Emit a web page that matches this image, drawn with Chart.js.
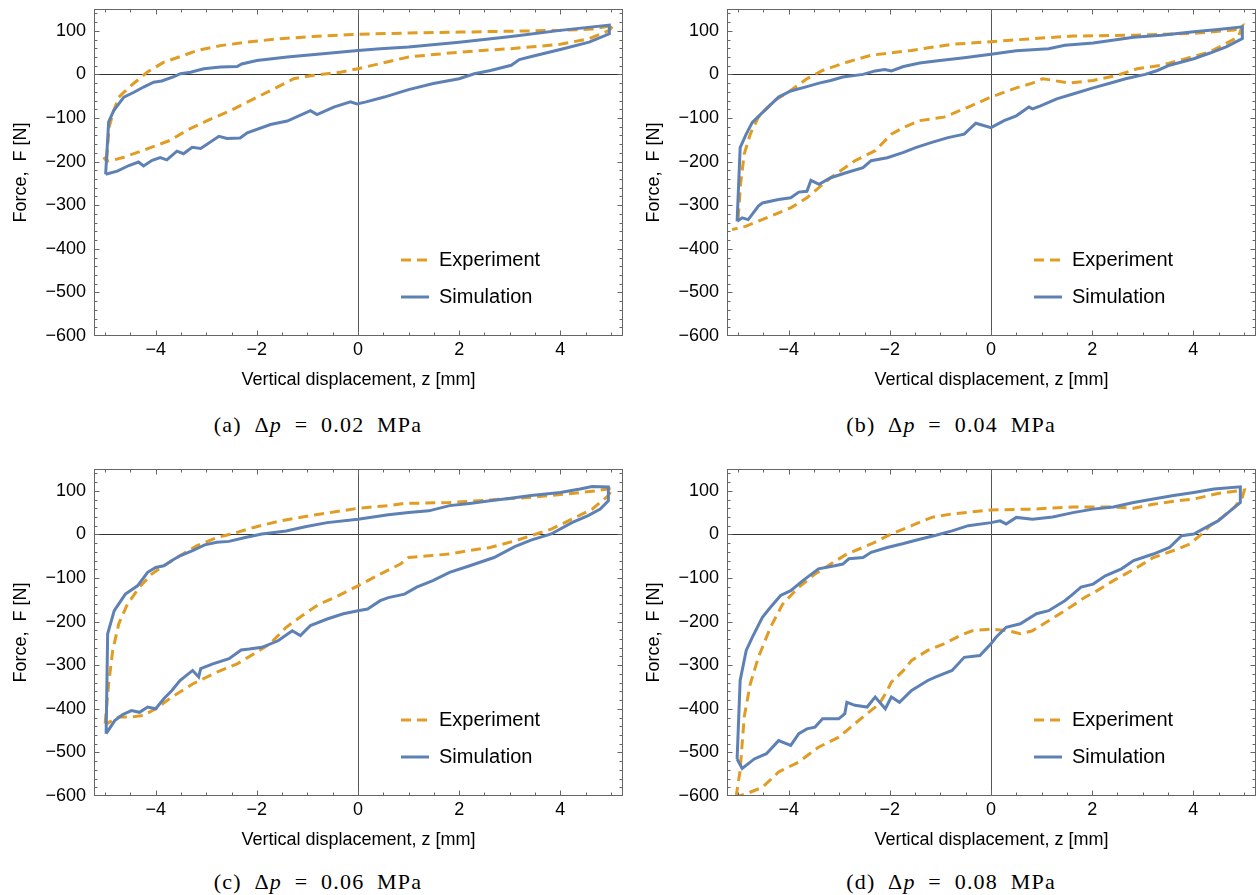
<!DOCTYPE html>
<html><head><meta charset="utf-8">
<script src="https://cdn.jsdelivr.net/npm/chart.js@4.4.0/dist/chart.umd.min.js"></script>
<style>
html,body{margin:0;padding:0;background:#fff;width:1260px;height:895px;overflow:hidden;}
.panel{position:absolute;width:627px;height:400px;}
.cap{position:absolute;font-family:"Liberation Serif","Times New Roman",serif;font-size:22px;line-height:30px;color:#000;text-align:center;width:400px;letter-spacing:1.2px;word-spacing:6px;}
</style></head><body>
<div class="panel" style="left:0;top:0"><canvas id="ca" width="627" height="400"></canvas></div>
<div class="panel" style="left:633px;top:0"><canvas id="cb" width="627" height="400"></canvas></div>
<div class="panel" style="left:0;top:460px"><canvas id="cc" width="627" height="400"></canvas></div>
<div class="panel" style="left:633px;top:460px"><canvas id="cd" width="627" height="400"></canvas></div>
<div class="cap" style="left:118px;top:410px">(a) Δ<i>p</i> = 0.02 MPa</div>
<div class="cap" style="left:751px;top:410px">(b) Δ<i>p</i> = 0.04 MPa</div>
<div class="cap" style="left:118px;top:867px">(c) Δ<i>p</i> = 0.06 MPa</div>
<div class="cap" style="left:751px;top:867px">(d) Δ<i>p</i> = 0.08 MPa</div>
<script>
// ---- tick labels / axis ranges ----
const X_TICKS = [-4, -2, 0, 2, 4];
const Y_TICKS = [-600, -500, -400, -300, -200, -100, 0, 100];
const X_RANGE = [-5.22, 5.24];
const Y_RANGE = [-600, 150];
const SERIES_LABELS = ['Experiment', 'Simulation'];

// ---- data: [z (mm), F (N)] in loop order ----
// (a) Δp = 0.02 MPa
const expA = [[-4.97,-195],[-4.92,-121],[-4.83,-83],[-4.73,-52],[-4.6,-38],[-4.45,-22],[-4.3,-8],[-4.17,5],[-4.0,17],[-3.84,28],[-3.51,41],[-3.18,55],[-2.72,66],[-2.19,74],[-1.54,82],[-0.88,87],[-0.22,91],[0.3,93],[1.0,95],[2.0,97],[3.0,99],[4.0,101],[4.65,104],[5.05,113],
  [4.97,101],[4.57,82],[4.0,69],[3.03,59],[2.46,55],[2.0,51],[1.0,40],[0.44,25],[0.0,13],[-0.35,5],[-0.88,-2],[-1.27,-10],[-1.73,-37],[-2.06,-56],[-2.52,-83],[-2.98,-106],[-3.38,-128],[-3.71,-151],[-4.17,-171],[-4.63,-190],[-4.85,-197],[-4.97,-199],[-5.03,-190]];
const simA = [[-4.99,-229],[-4.93,-109],[-4.83,-83],[-4.63,-52],[-4.43,-41],[-4.24,-29],[-4.04,-18],[-3.88,-15],[-3.64,-5],[-3.51,1.5],[-3.31,5],[-3.05,13],[-2.72,17],[-2.39,18],[-2.3,24],[-2.0,32],[-1.4,40],[-0.75,47],[0.0,55],[0.44,59],[1.0,63],[2.0,74],[3.03,87],[4.0,101],[4.97,113],[4.97,93],
  [4.57,74],[4.0,57],[3.43,41],[3.19,34],[3.03,21],[2.62,9],[2.3,1.5],[2.0,-10],[1.49,-21],[1.0,-35],[0.52,-52],[0.16,-63],[-0.02,-68],[-0.15,-63],[-0.48,-75],[-0.81,-92],[-0.94,-83],[-1.4,-107],[-1.73,-115],[-2.19,-134],[-2.33,-146],[-2.59,-147],[-2.75,-142],[-3.11,-170],[-3.28,-167],[-3.45,-182],[-3.58,-176],[-3.78,-196],[-3.91,-191],[-4.07,-197],[-4.24,-210],[-4.34,-201],[-4.53,-209],[-4.76,-222],[-4.99,-229]];
// (b) Δp = 0.04 MPa
const expB = [[-5.0,-330],[-4.95,-250],[-4.88,-183],[-4.76,-137],[-4.6,-98],[-4.28,-60],[-3.96,-37],[-3.64,-10],[-3.33,9],[-2.85,28],[-2.37,44],[-1.57,55],[-0.77,69],[0,75],[0.82,82],[1.62,88],[2.82,90],[4.01,94],[4.81,102],[4.97,111],
  [4.89,86],[4.65,71],[4.33,52],[3.85,36],[3.37,21],[2.89,13],[2.5,-2],[2.02,-14],[1.54,-20],[1.14,-12],[1.02,-10],[0.82,-20],[0.5,-31],[0,-52],[-0.45,-75],[-0.93,-98],[-1.41,-106],[-1.73,-122],[-1.97,-137],[-2.29,-175],[-2.69,-198],[-3.17,-237],[-3.64,-283],[-3.96,-306],[-4.44,-329],[-4.84,-348],[-5.12,-356]];
const simB = [[-5.02,-337],[-4.96,-168],[-4.84,-137],[-4.72,-110],[-4.48,-83],[-4.2,-52],[-3.96,-38],[-3.64,-28],[-3.4,-20],[-3.17,-14],[-2.93,-6],[-2.53,0],[-2.29,8],[-2.1,11],[-1.97,8],[-1.73,18],[-1.41,26],[-1.01,32],[-0.53,38],[0,46],[0.5,54],[0.9,57],[1.14,59],[1.46,67],[2.02,72],[2.82,85],[3.37,90],[4.01,98],[4.49,103],[4.97,109],[4.97,82],
  [4.65,63],[4.33,49],[4.01,36],[3.53,21],[3.29,9],[3.05,0],[2.66,-10],[2.42,-18],[2.02,-31],[1.62,-45],[1.3,-56],[0.98,-72],[0.82,-79],[0.75,-75],[0.5,-95],[0.26,-106],[0,-122],[-0.3,-112],[-0.53,-137],[-0.85,-145],[-1.17,-156],[-1.49,-168],[-1.73,-179],[-2.05,-191],[-2.37,-198],[-2.53,-214],[-2.85,-225],[-3.17,-237],[-3.4,-252],[-3.56,-243],[-3.64,-268],[-3.8,-270],[-3.96,-283],[-4.2,-287],[-4.52,-295],[-4.6,-302],[-4.8,-333],[-4.92,-329],[-5.02,-337]];
// (c) Δp = 0.06 MPa
const expC = [[-5.0,-434],[-4.93,-343],[-4.85,-266],[-4.73,-205],[-4.56,-160],[-4.32,-121],[-4.08,-91],[-3.84,-72],[-3.52,-49],[-3.19,-26],[-2.79,-7],[-2.47,2],[-2.06,16],[-1.58,30],[-0.94,43],[0,60],[0.6,66],[0.92,71],[1.81,73],[2.61,79],[3.42,85],[4.23,94],[4.71,100],[5.03,106],
  [4.95,89],[4.63,58],[4.23,35],[3.82,12],[3.42,-3],[3.1,-15],[2.61,-30],[2.21,-37],[1.81,-45],[1.4,-49],[1.0,-53],[0.84,-68],[0.44,-91],[0,-118],[-0.45,-144],[-0.77,-160],[-1.1,-186],[-1.42,-213],[-1.74,-251],[-2.06,-274],[-2.39,-297],[-2.79,-316],[-3.27,-343],[-3.68,-373],[-4.0,-400],[-4.24,-415],[-4.48,-419],[-4.73,-419],[-4.97,-434]];
const simC = [[-4.98,-457],[-4.95,-228],[-4.82,-175],[-4.6,-137],[-4.36,-118],[-4.16,-87],[-4.0,-76],[-3.84,-72],[-3.68,-60],[-3.52,-49],[-3.27,-37],[-3.03,-24],[-2.79,-18],[-2.55,-16],[-2.23,-7],[-1.9,1],[-1.42,8],[-1.02,18],[-0.61,27],[0,35],[0.6,45],[1.0,50],[1.4,54],[1.81,66],[2.21,71],[2.61,77],[3.02,83],[3.42,89],[4.0,96],[4.39,104],[4.63,110],[4.95,109],[4.95,77],
  [4.79,58],[4.55,43],[4.23,27],[3.82,1],[3.42,-13],[3.1,-28],[2.69,-53],[2.21,-72],[1.81,-87],[1.48,-106],[1.16,-121],[0.92,-137],[0.6,-145],[0.44,-152],[0.19,-171],[0,-175],[-0.29,-182],[-0.61,-194],[-0.94,-209],[-1.14,-232],[-1.3,-221],[-1.58,-244],[-1.9,-259],[-2.15,-263],[-2.31,-265],[-2.55,-285],[-2.87,-297],[-3.11,-308],[-3.15,-327],[-3.27,-312],[-3.52,-335],[-3.68,-358],[-3.84,-377],[-4.0,-400],[-4.16,-396],[-4.32,-408],[-4.48,-404],[-4.65,-413],[-4.81,-427],[-4.98,-457]];
// (d) Δp = 0.08 MPa
const expD = [[-5.04,-602],[-4.96,-541],[-4.88,-419],[-4.76,-343],[-4.6,-282],[-4.36,-213],[-4.12,-160],[-3.8,-121],[-3.48,-91],[-3.17,-68],[-2.85,-45],[-2.37,-22],[-1.97,1],[-1.57,20],[-1.17,39],[-0.77,47],[0,56],[0.82,58],[1.62,63],[2.42,63],[2.82,60],[3.21,69],[3.61,76],[4.01,81],[4.49,94],[5.01,102],
  [4.97,85],[4.81,62],[4.57,39],[4.33,20],[4.17,1],[3.93,-22],[3.61,-37],[3.21,-53],[2.89,-76],[2.42,-106],[2.1,-129],[1.86,-144],[1.46,-175],[1.14,-198],[0.82,-221],[0.58,-228],[0.34,-221],[0,-217],[-0.37,-221],[-0.61,-232],[-0.93,-251],[-1.25,-266],[-1.57,-289],[-1.73,-312],[-1.97,-339],[-2.05,-358],[-2.21,-389],[-2.45,-411],[-2.69,-434],[-3.01,-465],[-3.41,-488],[-3.8,-522],[-4.2,-545],[-4.52,-580],[-4.84,-595],[-5.04,-602]];
const simD = [[-5.02,-515],[-4.96,-335],[-4.84,-266],[-4.72,-236],[-4.52,-190],[-4.36,-167],[-4.16,-140],[-3.96,-129],[-3.72,-106],[-3.41,-79],[-3.09,-72],[-2.93,-68],[-2.81,-56],[-2.53,-53],[-2.37,-41],[-2.05,-30],[-1.73,-21],[-1.41,-11],[-1.09,-2],[-0.77,8],[-0.45,20],[0,27],[0.18,31],[0.3,24],[0.5,39],[0.82,35],[1.22,40],[1.62,50],[2.02,58],[2.42,63],[2.82,73],[3.21,81],[3.61,89],[4.01,96],[4.41,104],[4.93,109],[4.93,73],
  [4.73,54],[4.49,31],[4.25,16],[4.01,1],[3.77,-3],[3.53,-30],[3.21,-45],[2.82,-60],[2.58,-79],[2.26,-95],[2.02,-114],[1.78,-121],[1.62,-137],[1.46,-152],[1.14,-175],[0.9,-182],[0.58,-205],[0.3,-213],[0.1,-236],[0,-251],[-0.22,-278],[-0.53,-282],[-0.77,-312],[-1.09,-327],[-1.25,-335],[-1.57,-358],[-1.81,-385],[-1.97,-373],[-2.09,-400],[-2.29,-373],[-2.45,-396],[-2.69,-392],[-2.85,-385],[-2.89,-411],[-3.01,-423],[-3.33,-423],[-3.48,-442],[-3.64,-446],[-3.8,-457],[-3.96,-484],[-4.2,-473],[-4.44,-503],[-4.68,-515],[-4.92,-537],[-5.02,-515]];

// ---- styles ----
const ORANGE = 'rgb(225,156,36)';
const BLUE = 'rgb(94,129,181)';
const FONT = '"Liberation Sans", Arial, sans-serif';
const FRAME = '#666';

const fmt = v => v < 0 ? '\u2212' + Math.abs(v) : String(v);

const framePlugin = {
  id: 'mmaFrame',
  beforeDatasetsDraw(chart) {
    const {ctx, chartArea: a, scales: {x, y}} = chart;
    ctx.save();
    ctx.lineWidth = 1;
    const y0 = Math.round(y.getPixelForValue(0)) + 0.5;
    const x0 = Math.round(x.getPixelForValue(0)) + 0.5;
    ctx.strokeStyle = '#333';
    ctx.beginPath(); ctx.moveTo(a.left, y0); ctx.lineTo(a.right, y0); ctx.stroke();
    ctx.strokeStyle = '#555';
    ctx.beginPath(); ctx.moveTo(x0, a.top); ctx.lineTo(x0, a.bottom); ctx.stroke();
    ctx.restore();
  },
  afterDatasetsDraw(chart) {
    const {ctx, chartArea: a, scales: {x, y}} = chart;
    ctx.save();
    ctx.strokeStyle = FRAME;
    ctx.lineWidth = 1;
    const L = Math.round(a.left) + 0.5, R = Math.round(a.right) - 0.5;
    const T = Math.round(a.top) + 0.5, B = Math.round(a.bottom) - 0.5;
    ctx.strokeRect(L, T, R - L, B - T);
    ctx.beginPath();
    for (let k = -10; k <= 10; k++) {
      const v = k * 0.5;
      const len = X_TICKS.includes(v) ? 5 : 3;
      const px = Math.round(x.getPixelForValue(v)) + 0.5;
      if (px < a.left || px > a.right) continue;
      ctx.moveTo(px, B); ctx.lineTo(px, B - len);
      ctx.moveTo(px, T); ctx.lineTo(px, T + len);
    }
    for (let k = -30; k <= 7; k++) {
      const v = k * 20;
      const len = Y_TICKS.includes(v) ? 5 : 3;
      const py = Math.round(y.getPixelForValue(v)) + 0.5;
      if (py < a.top || py > a.bottom) continue;
      ctx.moveTo(L, py); ctx.lineTo(L + len, py);
      ctx.moveTo(R, py); ctx.lineTo(R - len, py);
    }
    ctx.stroke();
    ctx.restore();
  },
  afterDraw(chart) {
    const {ctx, chartArea: a} = chart;
    ctx.save();
    chart.data.datasets.slice().sort((p, q) => SERIES_LABELS.indexOf(p.label) - SERIES_LABELS.indexOf(q.label)).forEach((ds, i) => {
      const yy = a.top + 251 + i * 37;
      ctx.strokeStyle = ds.borderColor;
      ctx.lineWidth = 3;
      ctx.setLineDash(ds.borderDash || []);
      ctx.beginPath(); ctx.moveTo(a.left + 307, yy); ctx.lineTo(a.left + 335, yy); ctx.stroke();
      ctx.setLineDash([]);
      ctx.fillStyle = '#000';
      ctx.font = '20px ' + FONT;
      ctx.textBaseline = 'middle';
      ctx.textAlign = 'left';
      ctx.fillText(ds.label, a.left + 345, yy);
    });
    ctx.restore();
  }
};

function makeChart(id, exp, sim) {
  const pts = arr => arr.map(p => ({x: p[0], y: p[1]}));
  return new Chart(document.getElementById(id), {
    type: 'scatter',
    data: {datasets: [
      {label: SERIES_LABELS[0], data: pts(exp), showLine: true, borderColor: ORANGE, backgroundColor: ORANGE,
       borderWidth: 3, borderDash: [10, 6], pointRadius: 0, tension: 0, order: 2},
      {label: SERIES_LABELS[1], data: pts(sim), showLine: true, borderColor: BLUE, backgroundColor: BLUE,
       borderWidth: 3, pointRadius: 0, tension: 0, order: 1}
    ]},
    options: {
      responsive: false, animation: false, devicePixelRatio: 1,
      layout: {padding: {left: 0, top: 9, right: 4, bottom: 4}},
      plugins: {legend: {display: false}, tooltip: {enabled: false}},
      scales: {
        x: {type: 'linear', position: 'bottom', min: X_RANGE[0], max: X_RANGE[1],
            grid: {display: false, drawTicks: false}, border: {display: false},
            afterBuildTicks: s => { s.ticks = X_TICKS.map(v => ({value: v})); },
            afterFit: s => { s.height = 60; s.paddingLeft = 0; s.paddingRight = 0; },
            ticks: {font: {family: FONT, size: 18}, color: '#000', padding: 3, maxRotation: 0, autoSkip: false, callback: fmt},
            title: {display: true, text: 'Vertical displacement, z [mm]', font: {family: FONT, size: 18}, color: '#000', padding: {top: 0, bottom: 5}}},
        y: {type: 'linear', position: 'left', min: Y_RANGE[0], max: Y_RANGE[1],
            grid: {display: false, drawTicks: false}, border: {display: false},
            afterBuildTicks: s => { s.ticks = Y_TICKS.map(v => ({value: v})); },
            afterFit: s => { s.width = 94; s.paddingTop = 0; s.paddingBottom = 0; },
            ticks: {font: {family: FONT, size: 18}, color: '#000', padding: 8, autoSkip: false, callback: fmt},
            title: {display: true, text: 'Force,  F [N]', font: {family: FONT, size: 18}, color: '#000', padding: {top: 10, bottom: 0}}}
      }
    },
    plugins: [framePlugin]
  });
}

makeChart('ca', expA, simA);
makeChart('cb', expB, simB);
makeChart('cc', expC, simC);
makeChart('cd', expD, simD);
</script>
</body></html>
